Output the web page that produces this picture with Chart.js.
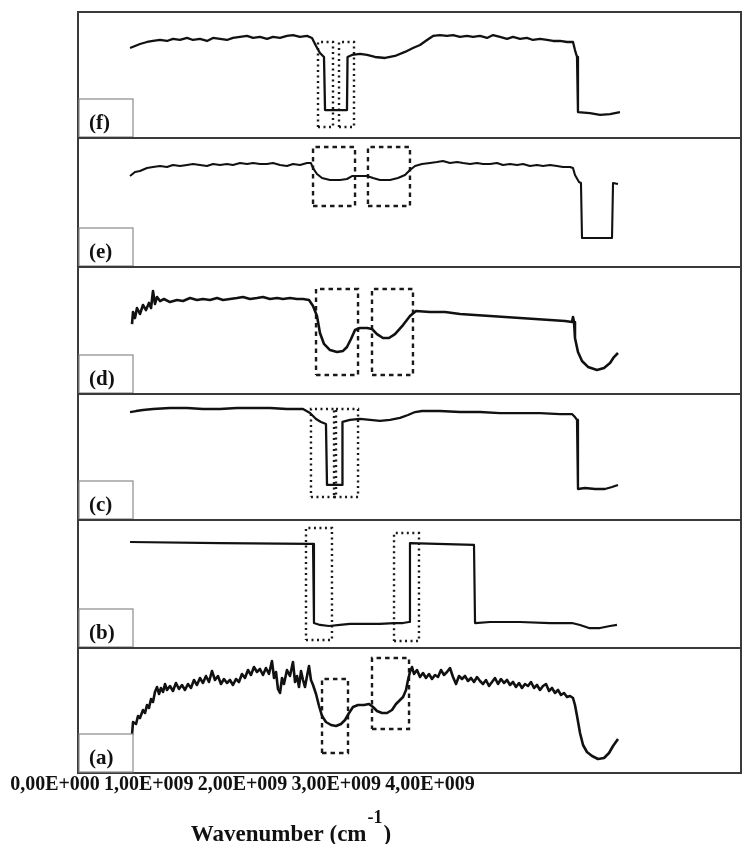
<!DOCTYPE html>
<html>
<head>
<meta charset="utf-8">
<script src="https://cdn.jsdelivr.net/npm/chart.js@4/dist/chart.umd.min.js"></script>
<style>
  html, body { margin: 0; padding: 0; background: #fff; }
  #wrap { width: 744px; height: 844px; position: relative; }
</style>
</head>
<body>
<div id="wrap"><canvas id="c" width="744" height="844"></canvas></div>
<script>
// ---- axis ticks (in units of 1E+009) ----
const xTickValues = [0, 1, 2, 3, 4];
const xTickLabels = ['0,00E+000', '1,00E+009', '2,00E+009', '3,00E+009', '4,00E+009'];
const xTitleMain = 'Wavenumber (cm';
const xTitleSup = '-1';
const xTitleEnd = ')';

// ---- panel labels, top to bottom ----
const panelLabels = ['(f)', '(e)', '(d)', '(c)', '(b)', '(a)'];

// ---- spectra: [wavenumber (1E+009), relative signal 0..100 within panel] ----
const spectrumF = [[0.555,71.4],[0.608,73.0],[0.661,74.6],[0.736,76.2],[0.8,77.0],[0.875,77.8],[0.949,77.0],[1.013,78.6],[1.088,77.8],[1.163,79.4],[1.227,77.8],[1.301,78.6],[1.376,77.0],[1.44,79.4],[1.515,78.6],[1.589,77.8],[1.653,79.4],[1.728,80.2],[1.803,81.0],[1.867,79.4],[1.941,80.2],[2.016,78.6],[2.08,80.2],[2.155,79.4],[2.229,81.0],[2.293,81.7],[2.368,80.2],[2.443,81.0],[2.496,79.4],[2.539,73.0],[2.581,67.5],[2.624,64.3],[2.635,22.2],[2.869,22.2],[2.875,64.3],[2.923,65.9],[3.008,66.7],[3.083,65.9],[3.168,64.3],[3.275,63.5],[3.381,65.1],[3.488,68.3],[3.573,71.4],[3.648,73.8],[3.723,77.8],[3.787,81.0],[3.861,81.7],[3.936,81.0],[4.0,81.7],[4.075,80.2],[4.149,81.0],[4.213,80.2],[4.288,81.0],[4.363,79.4],[4.427,81.7],[4.501,80.2],[4.576,78.6],[4.64,80.2],[4.715,78.6],[4.789,79.4],[4.853,77.8],[4.928,78.6],[5.003,77.8],[5.067,77.0],[5.141,77.0],[5.216,76.2],[5.28,76.2],[5.301,69.8],[5.323,64.3],[5.333,20.6],[5.461,19.8],[5.568,18.3],[5.675,19.0],[5.781,20.6]];

const spectrumE = [[0.555,70.5],[0.608,73.6],[0.661,74.4],[0.736,76.7],[0.8,77.5],[0.875,78.3],[0.949,77.5],[1.013,79.1],[1.088,78.3],[1.163,79.1],[1.227,79.8],[1.301,79.1],[1.376,78.3],[1.44,79.8],[1.515,79.1],[1.589,79.8],[1.653,79.1],[1.728,80.6],[1.803,79.8],[1.867,80.6],[1.941,79.8],[2.016,79.8],[2.08,80.6],[2.155,79.1],[2.229,78.3],[2.293,79.8],[2.368,79.1],[2.443,80.6],[2.485,80.6],[2.507,76.7],[2.549,72.1],[2.603,69.0],[2.688,67.4],[2.795,67.4],[2.869,68.2],[2.923,70.5],[3.008,70.5],[3.083,70.5],[3.147,69.0],[3.221,67.4],[3.328,67.4],[3.413,69.0],[3.488,71.3],[3.541,75.2],[3.595,78.3],[3.669,79.8],[3.755,80.6],[3.829,81.4],[3.893,82.2],[3.968,80.6],[4.043,81.4],[4.107,80.6],[4.181,79.8],[4.256,80.6],[4.32,79.8],[4.395,79.8],[4.469,80.6],[4.533,79.1],[4.608,79.8],[4.683,79.1],[4.747,79.8],[4.821,78.3],[4.896,79.1],[4.96,78.3],[5.035,79.1],[5.109,78.3],[5.173,77.5],[5.248,77.5],[5.28,76.7],[5.301,71.3],[5.344,65.9],[5.365,65.1],[5.376,22.5],[5.696,22.5],[5.707,65.1],[5.76,64.3]];

const spectrumD = [[0.576,55.1],[0.587,64.6],[0.608,59.8],[0.629,67.7],[0.661,63.0],[0.693,70.1],[0.725,66.1],[0.757,71.7],[0.779,67.7],[0.8,81.1],[0.821,70.9],[0.843,76.4],[0.875,73.2],[0.917,74.8],[0.981,72.4],[1.056,74.0],[1.12,73.2],[1.195,75.6],[1.269,74.0],[1.333,74.8],[1.408,74.0],[1.483,75.6],[1.547,74.0],[1.621,74.8],[1.696,75.6],[1.76,76.4],[1.835,74.8],[1.909,75.6],[1.973,76.4],[2.048,74.8],[2.123,75.6],[2.187,74.8],[2.261,75.6],[2.336,74.8],[2.4,74.8],[2.464,74.0],[2.507,69.3],[2.549,61.4],[2.581,48.0],[2.624,39.4],[2.688,34.6],[2.763,33.1],[2.827,33.9],[2.869,37.0],[2.912,43.3],[2.955,50.4],[3.008,52.0],[3.083,52.0],[3.136,51.2],[3.189,47.2],[3.253,44.1],[3.317,44.1],[3.381,47.2],[3.467,54.3],[3.541,61.4],[3.605,65.4],[3.755,64.6],[3.915,64.6],[4.075,63.0],[4.235,62.2],[4.395,61.4],[4.555,60.6],[4.715,59.8],[4.875,59.1],[5.035,58.3],[5.195,57.5],[5.269,56.7],[5.28,60.6],[5.291,56.7],[5.301,44.1],[5.333,33.1],[5.376,26.0],[5.44,21.3],[5.536,18.9],[5.611,20.5],[5.675,24.4],[5.717,29.1],[5.76,32.3]];

const spectrumC = [[0.555,85.7],[0.619,86.5],[0.693,87.3],[0.8,88.1],[0.981,88.9],[1.163,88.9],[1.333,88.1],[1.515,88.1],[1.696,88.9],[1.867,88.9],[2.048,88.9],[2.229,88.1],[2.4,88.1],[2.475,84.9],[2.539,80.2],[2.592,77.8],[2.645,76.2],[2.656,27.8],[2.816,27.8],[2.821,77.8],[2.901,79.4],[3.008,80.2],[3.115,79.4],[3.221,78.6],[3.328,79.4],[3.435,81.0],[3.52,83.3],[3.595,85.7],[3.669,86.5],[3.861,86.5],[4.075,85.7],[4.288,85.7],[4.501,84.9],[4.715,84.9],[4.928,84.9],[5.141,84.1],[5.269,84.1],[5.301,81.7],[5.323,79.4],[5.333,24.6],[5.408,25.4],[5.515,24.6],[5.621,24.6],[5.696,26.2],[5.76,27.8]];

const spectrumB = [[0.555,82.8],[1.515,82.0],[2.475,81.3],[2.507,81.3],[2.517,19.5],[2.581,18.0],[2.677,17.2],[2.795,18.0],[2.901,18.8],[3.051,18.8],[3.221,18.8],[3.371,19.5],[3.467,19.5],[3.531,20.3],[3.541,82.0],[4.224,80.5],[4.235,19.5],[4.395,20.3],[4.715,20.3],[5.035,19.5],[5.269,19.5],[5.355,18.0],[5.451,15.6],[5.568,15.6],[5.675,17.2],[5.749,18.0]];

const spectrumA = [[0.576,30.4],[0.587,40.8],[0.619,39.2],[0.64,45.6],[0.661,44.0],[0.693,50.4],[0.715,48.0],[0.736,54.4],[0.757,52.0],[0.779,59.2],[0.8,56.8],[0.821,64.8],[0.843,68.8],[0.864,63.2],[0.885,68.0],[0.907,64.8],[0.928,71.2],[0.949,66.4],[0.981,69.6],[1.013,65.6],[1.045,72.0],[1.077,67.2],[1.109,70.4],[1.141,66.4],[1.173,71.2],[1.205,68.0],[1.237,74.4],[1.269,70.4],[1.301,76.0],[1.333,72.0],[1.365,77.6],[1.397,72.8],[1.429,81.6],[1.461,74.4],[1.493,77.6],[1.525,71.2],[1.557,75.2],[1.589,72.0],[1.621,74.4],[1.653,70.4],[1.685,75.2],[1.717,72.8],[1.749,79.2],[1.781,76.0],[1.813,82.4],[1.845,78.4],[1.877,84.8],[1.909,80.8],[1.941,83.2],[1.973,78.4],[2.005,84.0],[2.037,79.2],[2.069,89.6],[2.091,76.0],[2.112,80.8],[2.133,67.2],[2.155,64.0],[2.176,76.0],[2.197,71.2],[2.229,82.4],[2.261,77.6],[2.293,88.8],[2.315,72.8],[2.336,77.6],[2.357,68.8],[2.379,81.6],[2.4,74.4],[2.421,68.8],[2.443,77.6],[2.464,85.6],[2.485,74.4],[2.507,70.4],[2.539,63.2],[2.571,53.6],[2.603,45.6],[2.645,40.8],[2.699,38.4],[2.752,37.6],[2.805,39.2],[2.848,42.4],[2.891,48.0],[2.933,52.8],[2.987,54.4],[3.051,54.4],[3.104,55.2],[3.147,52.8],[3.189,49.6],[3.243,48.0],[3.296,48.0],[3.349,50.4],[3.392,55.2],[3.435,58.4],[3.467,60.8],[3.499,66.4],[3.52,74.4],[3.541,80.8],[3.563,84.8],[3.584,79.2],[3.616,82.4],[3.648,76.8],[3.68,80.0],[3.712,76.0],[3.744,79.2],[3.776,75.2],[3.808,78.4],[3.84,76.8],[3.872,82.4],[3.904,78.4],[3.936,80.8],[3.968,84.0],[4.0,76.8],[4.032,71.2],[4.064,77.6],[4.096,75.2],[4.128,77.6],[4.16,73.6],[4.192,76.0],[4.224,72.8],[4.256,76.8],[4.288,73.6],[4.32,71.2],[4.352,74.4],[4.384,69.6],[4.416,72.8],[4.448,76.0],[4.48,71.2],[4.512,75.2],[4.544,72.0],[4.576,74.4],[4.608,70.4],[4.64,72.8],[4.672,68.8],[4.704,72.0],[4.736,68.0],[4.768,71.2],[4.8,69.6],[4.832,72.8],[4.864,68.0],[4.896,70.4],[4.928,66.4],[4.96,69.6],[4.992,71.2],[5.024,65.6],[5.056,68.0],[5.088,64.0],[5.12,66.4],[5.152,62.4],[5.184,64.0],[5.216,60.8],[5.248,61.6],[5.28,60.0],[5.301,54.4],[5.323,45.6],[5.355,32.0],[5.387,22.4],[5.429,16.8],[5.483,13.6],[5.547,11.2],[5.611,12.0],[5.664,16.0],[5.707,21.6],[5.76,27.2]];

// ---- highlighted regions: [xFrom, xTo, yFrom, yTo] ----
const boxesF = [[2.56, 2.72, 8.7, 76.2], [2.784, 2.944, 8.7, 76.2]];
const boxesE = [[2.507, 2.955, 47.3, 93.0], [3.093, 3.541, 47.3, 93.0]];
const boxesD = [[2.539, 2.987, 15.0, 82.7], [3.136, 3.573, 15.0, 82.7]];
const boxesC = [[2.485, 2.752, 18.3, 88.1], [2.731, 2.987, 18.3, 88.1]];
const boxesB = [[2.432, 2.709, 6.3, 93.8], [3.371, 3.637, 5.5, 89.8]];
const boxesA = [[2.603, 2.88, 16.0, 75.2], [3.136, 3.531, 35.2, 92.0]];

// ---- build ----
const panels = [
  { id: 'yF', spec: spectrumF, boxes: boxesF, weight: 126, dash: [2, 3.5], lw: 2.3 },
  { id: 'yE', spec: spectrumE, boxes: boxesE, weight: 129, dash: [4.5, 4], lw: 2.1 },
  { id: 'yD', spec: spectrumD, boxes: boxesD, weight: 127, dash: [4.5, 4], lw: 2.6 },
  { id: 'yC', spec: spectrumC, boxes: boxesC, weight: 126, dash: [2, 3.5], lw: 2.3 },
  { id: 'yB', spec: spectrumB, boxes: boxesB, weight: 128, dash: [2, 3.5], lw: 2.2 },
  { id: 'yA', spec: spectrumA, boxes: boxesA, weight: 125, dash: [4.5, 4], lw: 2.6 }
];

const datasets = [];
panels.forEach(p => {
  datasets.push({
    data: p.spec.map(([x, y]) => ({ x, y })),
    yAxisID: p.id, xAxisID: 'x',
    borderColor: '#111', borderWidth: p.lw, pointRadius: 0, tension: 0, fill: false,
    borderJoinStyle: 'round'
  });
  p.boxes.forEach(([x1, x2, y1, y2]) => {
    datasets.push({
      data: [{x: x1, y: y1}, {x: x2, y: y1}, {x: x2, y: y2}, {x: x1, y: y2}, {x: x1, y: y1}],
      yAxisID: p.id, xAxisID: 'x',
      borderColor: '#1a1a1a', borderWidth: 2.4, borderDash: p.dash, pointRadius: 0, tension: 0, fill: false
    });
  });
});

const scales = {
  x: {
    type: 'linear', position: 'bottom', min: 0, max: 7.072,
    grid: { display: false, drawTicks: false, tickLength: 0 },
    border: { display: false },
    afterBuildTicks: (s) => { s.ticks = xTickValues.map(v => ({ value: v })); },
    ticks: {
      autoSkip: false, maxRotation: 0, minRotation: 0, padding: 0, labelOffset: -23,
      color: '#111', font: { family: '"Liberation Serif", serif', size: 20, weight: 'bold' },
      callback: (v, i) => xTickLabels[i]
    }
  }
};
// declare bottom panel first (last declared is placed on top of the stack)
panels.slice().reverse().forEach(p => {
  scales[p.id] = {
    type: 'linear', position: 'left', stack: 'panels', stackWeight: p.weight,
    min: 0, max: 100, display: true,
    grid: { display: false, drawTicks: false, tickLength: 0 },
    border: { display: false },
    ticks: { display: false }
  };
});

const framePlugin = {
  id: 'framePlugin',
  afterDatasetsDraw(chart) {
    const { ctx, chartArea } = chart;
    ctx.save();
    panels.forEach((p, i) => {
      const s = chart.scales[p.id];
      ctx.strokeStyle = '#3a3a3a';
      ctx.lineWidth = 2;
      ctx.strokeRect(chartArea.left, s.top, chartArea.right - chartArea.left, s.bottom - s.top);
      const bw = 55, bh = 39;
      ctx.fillStyle = '#fff';
      ctx.fillRect(chartArea.left + 1, s.bottom - bh, bw - 1, bh - 1);
      ctx.lineWidth = 1.2;
      ctx.strokeStyle = '#8a8a8a';
      ctx.strokeRect(chartArea.left + 1, s.bottom - bh, bw - 1, bh - 1);
      ctx.fillStyle = '#111';
      ctx.font = 'bold 21px "Liberation Serif", serif';
      ctx.textAlign = 'left';
      ctx.textBaseline = 'alphabetic';
      ctx.fillText(panelLabels[i], chartArea.left + 11, s.bottom - 9);
    });
    ctx.restore();
  },
  afterDraw(chart) {
    const { ctx, chartArea } = chart;
    ctx.save();
    ctx.fillStyle = '#111';
    ctx.textBaseline = 'alphabetic';
    ctx.textAlign = 'left';
    const fMain = 'bold 23px "Liberation Serif", serif';
    const fSup = 'bold 18px "Liberation Serif", serif';
    ctx.font = fMain; const w1 = ctx.measureText(xTitleMain).width; const w3 = ctx.measureText(xTitleEnd).width;
    ctx.font = fSup; const w2 = ctx.measureText(xTitleSup).width;
    const cx = chartArea.left + 213;
    let x = cx - (w1 + w2 + 2 + w3) / 2;
    const base = 841;
    ctx.font = fMain; ctx.fillText(xTitleMain, x, base); x += w1 + 1;
    ctx.font = fSup; ctx.fillText(xTitleSup, x, base - 18); x += w2 + 1;
    ctx.font = fMain; ctx.fillText(xTitleEnd, x, base);
    ctx.restore();
  }
};

new Chart(document.getElementById('c'), {
  type: 'line',
  data: { datasets },
  options: {
    responsive: false, animation: false, devicePixelRatio: 1,
    layout: { padding: { left: 78, right: 3, top: 12, bottom: 47 } },
    plugins: { legend: { display: false }, tooltip: { enabled: false }, title: { display: false } },
    scales
  },
  plugins: [framePlugin]
});
</script>
</body>
</html>
